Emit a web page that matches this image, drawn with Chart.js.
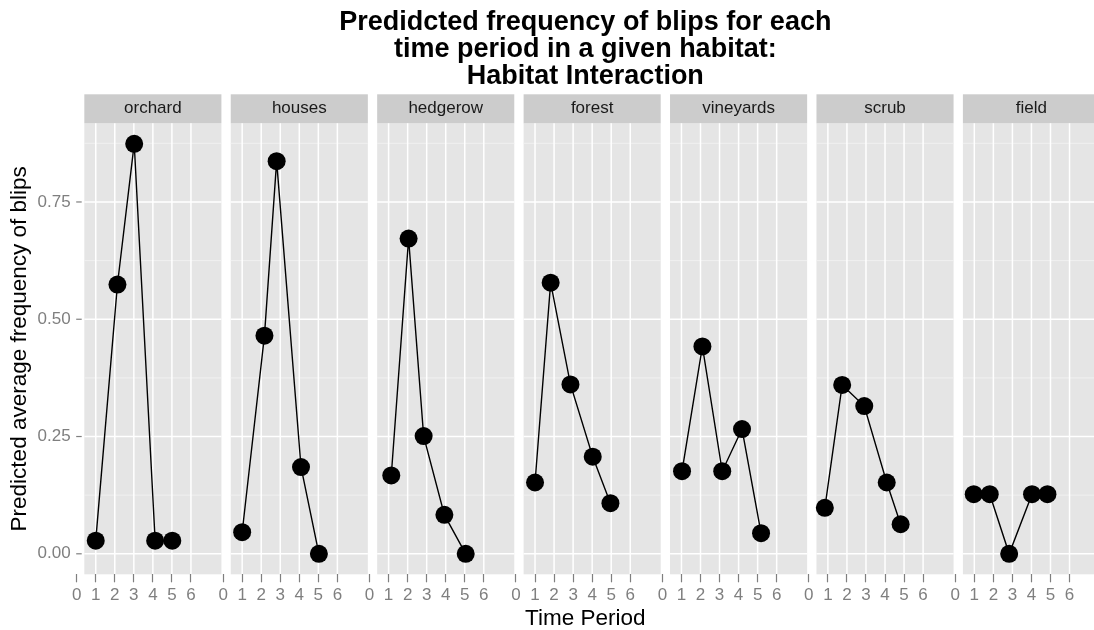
<!DOCTYPE html>
<html>
<head>
<meta charset="utf-8">
<script src="https://cdn.jsdelivr.net/npm/chart.js@4.4.1/dist/chart.umd.min.js"></script>
<style>
html, body { margin: 0; padding: 0; background: #fff; overflow: hidden; }
canvas { display: block; }
</style>
</head>
<body>
<canvas id="myChart" width="1094" height="630"></canvas>
<script>
const titleLines = ['Predidcted frequency of blips for each', 'time period in a given habitat:', 'Habitat Interaction'];
const habitats = ['orchard', 'houses', 'hedgerow', 'forest', 'vineyards', 'scrub', 'field'];
const periodTicks = [0, 1, 2, 3, 4, 5, 6];
const yTicks = [0, 0.25, 0.5, 0.75];
const yTickLabels = ['0.00', '0.25', '0.50', '0.75'];

// time period (points are slightly jittered in the original) and predicted frequency
const orchardX = [1.0, 2.14, 3.02, 4.12, 5.02];
const orchardY = [0.028, 0.574, 0.874, 0.028, 0.028];
const housesX = [1.0, 2.17, 2.81, 4.09, 5.03];
const housesY = [0.046, 0.465, 0.837, 0.185, 0.0];
const hedgerowX = [1.14, 2.05, 2.84, 3.93, 5.05];
const hedgerowY = [0.167, 0.672, 0.251, 0.083, 0.0];
const forestX = [1.0, 1.82, 2.86, 4.03, 4.96];
const forestY = [0.152, 0.578, 0.361, 0.207, 0.108];
const vineyardsX = [1.03, 2.1, 3.14, 4.18, 5.18];
const vineyardsY = [0.176, 0.442, 0.176, 0.266, 0.044];
const scrubX = [0.84, 1.75, 2.91, 4.09, 4.82];
const scrubY = [0.098, 0.36, 0.315, 0.152, 0.063];
const fieldX = [0.97, 1.81, 2.83, 4.03, 4.84];
const fieldY = [0.127, 0.127, 0.0, 0.127, 0.127];

const seriesX = [orchardX, housesX, hedgerowX, forestX, vineyardsX, scrubX, fieldX];
const seriesY = [orchardY, housesY, hedgerowY, forestY, vineyardsY, scrubY, fieldY];

// facets share one x axis, each panel shifted by STEP
const STEP = 7.69;
const PANEL_LO = 0.4, PANEL_HI = 7.6;
const VIEW_HI = 7.285; // the picture cuts off the last facet here
const FONT = '"Liberation Sans", Arial, sans-serif';

const allY = seriesY.flat();
const yLo = Math.min(...allY), yHi = Math.max(...allY);
const yPad = (yHi - yLo) * 0.05;

Chart.defaults.font.family = FONT;

const facetPlugin = {
	id: 'facets',
	beforeDraw(chart) {
		const { ctx, chartArea, scales: { x, y } } = chart;
		ctx.save();
		ctx.fillStyle = '#fff';
		ctx.fillRect(0, 0, chart.width, chart.height);
		habitats.forEach((name, k) => {
			const left = x.getPixelForValue(k * STEP + PANEL_LO);
			const right = x.getPixelForValue(k * STEP + PANEL_HI);
			ctx.fillStyle = '#e5e5e5';
			ctx.fillRect(left, chartArea.top, right - left, chartArea.bottom - chartArea.top);
			// strip
			ctx.fillStyle = '#cccccc';
			ctx.fillRect(left, chartArea.top - 29, right - left, 29);
			ctx.fillStyle = '#1a1a1a';
			ctx.font = '17px ' + FONT;
			ctx.textAlign = 'center';
			ctx.textBaseline = 'middle';
			ctx.fillText(name, (left + right) / 2, chartArea.top - 14.5);
			// minor horizontal grid
			ctx.strokeStyle = '#f2f2f2';
			ctx.lineWidth = 0.8;
			yTicks.forEach(v => {
				const py = y.getPixelForValue(v + 0.125);
				ctx.beginPath(); ctx.moveTo(left, py); ctx.lineTo(right, py); ctx.stroke();
			});
			// major grid
			ctx.strokeStyle = '#ffffff';
			ctx.lineWidth = 1.5;
			yTicks.forEach(v => {
				const py = y.getPixelForValue(v);
				ctx.beginPath(); ctx.moveTo(left, py); ctx.lineTo(right, py); ctx.stroke();
			});
			periodTicks.forEach(t => {
				if (t === 0) return;
				const px = x.getPixelForValue(k * STEP + t);
				ctx.beginPath(); ctx.moveTo(px, chartArea.top); ctx.lineTo(px, chartArea.bottom); ctx.stroke();
			});
		});
		// y tick marks
		ctx.strokeStyle = '#7f7f7f';
		ctx.lineWidth = 1.2;
		yTicks.forEach(v => {
			const py = y.getPixelForValue(v);
			ctx.beginPath(); ctx.moveTo(chartArea.left - 0.5, py); ctx.lineTo(chartArea.left + 5, py); ctx.stroke();
		});
		ctx.restore();
	}
};

const datasets = habitats.map((name, k) => ({
	label: name,
	data: seriesX[k].map((xv, i) => ({ x: xv + k * STEP, y: seriesY[k][i] })),
	borderColor: '#000',
	borderWidth: 1.4,
	backgroundColor: '#000',
	pointBackgroundColor: '#000',
	pointBorderWidth: 0,
	pointRadius: 9,
	tension: 0,
	fill: false
}));

const ctx = document.getElementById('myChart').getContext('2d');
const myChart = new Chart(ctx, {
	type: 'line',
	data: { datasets: datasets },
	plugins: [facetPlugin],
	options: {
		responsive: false,
		animation: false,
		devicePixelRatio: 1,
		events: [],
		layout: { padding: 0, autoPadding: false },
		plugins: {
			legend: { display: false },
			tooltip: { enabled: false },
			title: {
				display: true,
				text: titleLines,
				fullSize: false,
				color: '#000',
				font: { size: 27, weight: 'bold', lineHeight: 1.0 },
				padding: { top: 9.5, bottom: 32.8 }
			}
		},
		scales: {
			x: {
				type: 'linear',
				min: 0,
				max: (habitats.length - 1) * STEP + VIEW_HI,
				afterBuildTicks: s => {
					const ticks = [];
					habitats.forEach((h, k) => periodTicks.forEach(t => ticks.push({ value: k * STEP + t })));
					s.ticks = ticks;
				},
				afterFit: s => {
					s.height = 55.7;
					s.paddingLeft = 0;
					s.paddingRight = 0;
				},
				grid: { drawOnChartArea: false, drawTicks: true, tickLength: 8, tickColor: '#7f7f7f', tickWidth: 1.2 },
				border: { display: false },
				ticks: {
					autoSkip: false,
					maxRotation: 0,
					padding: 3.2,
					color: '#7f7f7f',
					font: { size: 17 },
					callback: (v, i) => periodTicks[i % periodTicks.length]
				},
				title: {
					display: true,
					text: 'Time Period',
					color: '#000',
					font: { size: 22.5, lineHeight: 1 },
					padding: { top: 0, bottom: 0 }
				}
			},
			y: {
				min: yLo - yPad,
				max: yHi + yPad,
				afterBuildTicks: s => { s.ticks = yTicks.map(v => ({ value: v })); },
				afterFit: s => { s.width = 76.7; },
				grid: { drawOnChartArea: false, drawTicks: false },
				border: { display: false },
				ticks: {
					padding: 6,
					color: '#7f7f7f',
					font: { size: 17 },
					callback: (v, i) => yTickLabels[i]
				},
				title: {
					display: true,
					text: 'Predicted average frequency of blips',
					color: '#000',
					font: { size: 22.5, lineHeight: 1 },
					padding: { top: 9, bottom: 0 }
				}
			}
		}
	}
});
</script>
</body>
</html>
